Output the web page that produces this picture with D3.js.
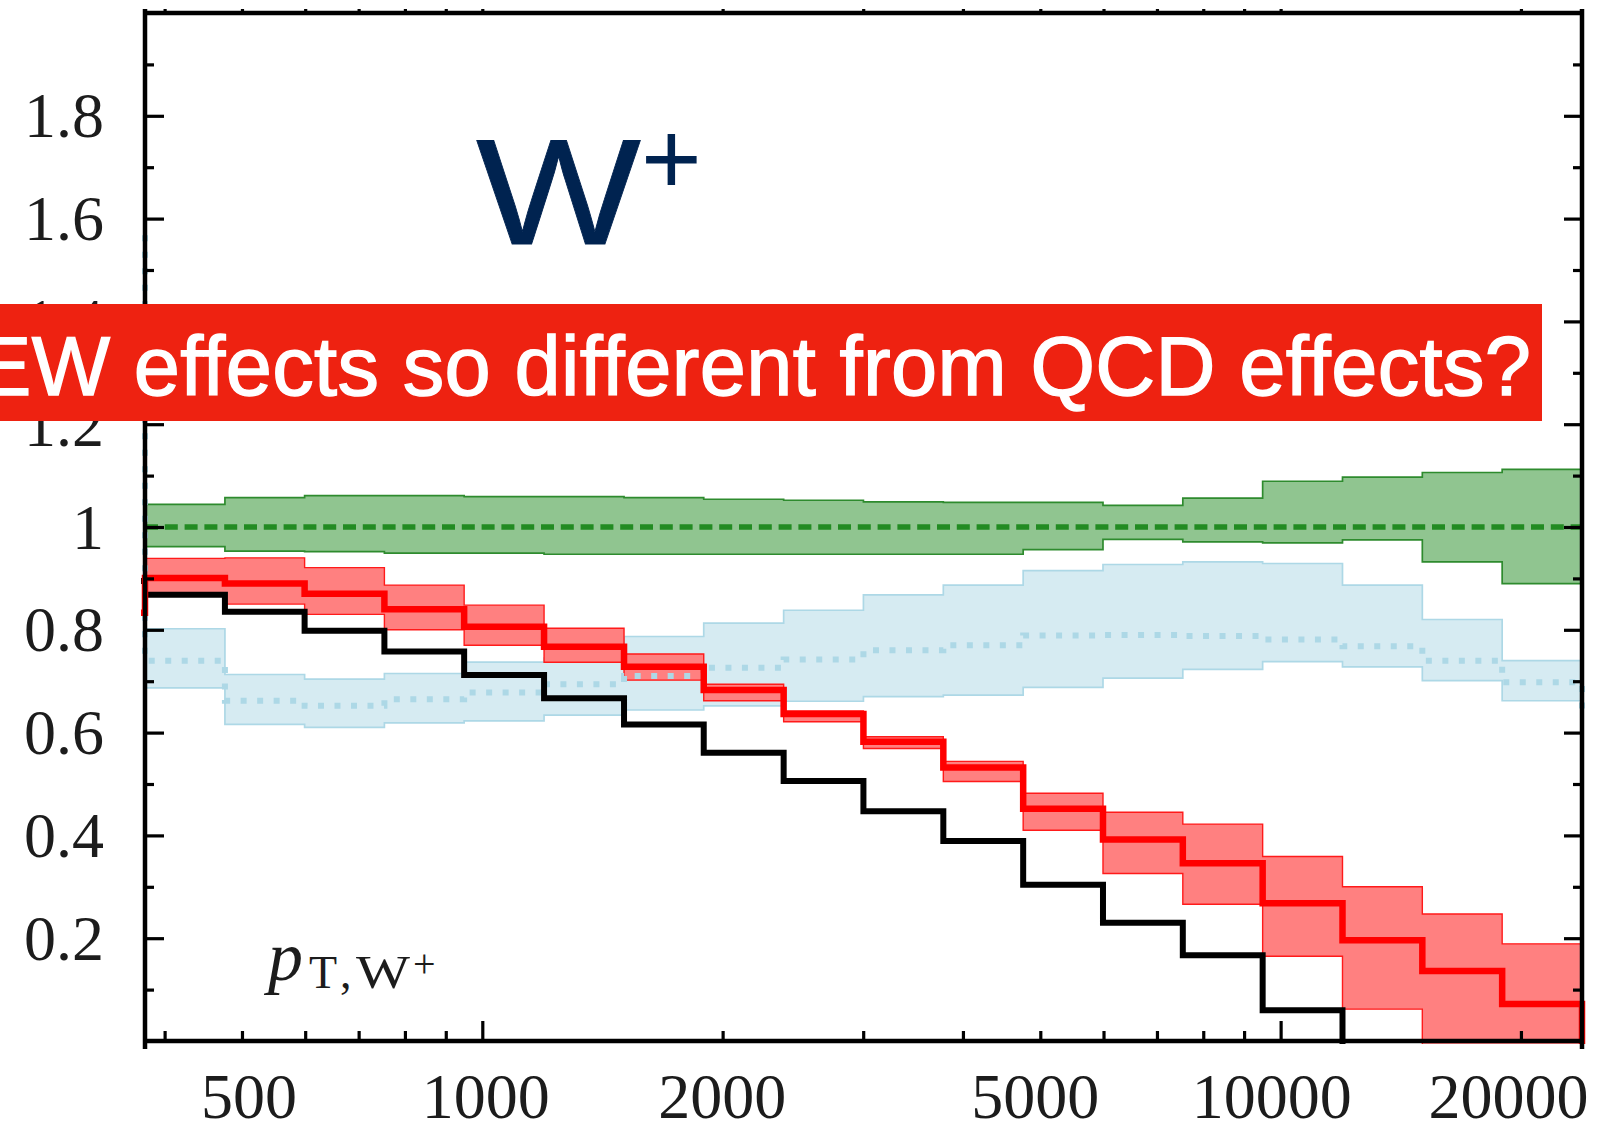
<!DOCTYPE html>
<html>
<head>
<meta charset="utf-8">
<script src="https://cdnjs.cloudflare.com/ajax/libs/d3/7.8.5/d3.min.js"></script>
<style>
  html, body { margin: 0; padding: 0; background: #fff; overflow: hidden; }
  svg { display: block; }
  .lbl { font-family: "Liberation Serif", "Times New Roman", serif; font-size: 64px; fill: #1c1c1c; }
</style>
</head>
<body>
<div id="chart"></div>
<script>
// pT bin edges (10 bins per decade), first/last entries are the bins just outside the frame
var binEdges = [300, 378, 476, 599, 754, 949, 1195, 1505, 1894, 2385, 3002, 3780, 4759, 5991, 7542, 9495, 11954, 15049, 18946, 23852, 30000];

// step lines: index 0 and 19 are the neighbour bins outside the frame
var blackLine = [0.895, 0.868, 0.835, 0.798, 0.758, 0.712, 0.667, 0.616, 0.561, 0.506, 0.447, 0.389, 0.304, 0.230, 0.167, 0.060, -0.05, -0.05, -0.05, -0.05];
var redLine   = [0.833, 0.901, 0.890, 0.870, 0.840, 0.806, 0.767, 0.728, 0.683, 0.636, 0.582, 0.532, 0.452, 0.392, 0.346, 0.268, 0.196, 0.136, 0.072, -0.05];
var blueLine  = [1.572, 0.740, 0.662, 0.652, 0.665, 0.678, 0.694, 0.710, 0.726, 0.742, 0.760, 0.770, 0.789, 0.790, 0.788, 0.781, 0.768, 0.740, 0.698, 0.640];
var greenLine = [1, 1, 1, 1, 1, 1, 1, 1, 1, 1, 1, 1, 1, 1, 1, 1, 1, 1, 1, 1];

// uncertainty bands, the 18 bins inside the frame
var redHi   = [0.939, 0.940, 0.921, 0.887, 0.848, 0.803, 0.753, 0.694, 0.642, 0.592, 0.544, 0.482, 0.445, 0.422, 0.359, 0.300, 0.247, 0.189];
var redLo   = [0.865, 0.850, 0.830, 0.800, 0.770, 0.737, 0.702, 0.662, 0.621, 0.569, 0.505, 0.410, 0.326, 0.266, 0.165, 0.062, -0.05, -0.05];
var greenHi = [1.044, 1.057, 1.061, 1.061, 1.059, 1.059, 1.057, 1.054, 1.052, 1.049, 1.048, 1.048, 1.042, 1.056, 1.089, 1.097, 1.106, 1.112];
var greenLo = [0.962, 0.953, 0.952, 0.949, 0.949, 0.947, 0.947, 0.947, 0.947, 0.947, 0.947, 0.956, 0.976, 0.971, 0.969, 0.975, 0.932, 0.890];
var blueHi  = [0.802, 0.713, 0.704, 0.715, 0.737, 0.745, 0.787, 0.813, 0.838, 0.868, 0.887, 0.915, 0.927, 0.932, 0.929, 0.887, 0.820, 0.740];
var blueLo  = [0.687, 0.616, 0.610, 0.619, 0.623, 0.634, 0.644, 0.652, 0.661, 0.670, 0.673, 0.688, 0.706, 0.723, 0.738, 0.728, 0.701, 0.662];

var xLabelTicks = [500, 1000, 2000, 5000, 10000, 20000];
var xMajorTicks = [1000, 10000];
var xMinorTicks = [400, 500, 600, 700, 800, 900, 2000, 3000, 4000, 5000, 6000, 7000, 8000, 9000, 20000];
var yMajorTicks = [0.2, 0.4, 0.6, 0.8, 1.0, 1.2, 1.4, 1.6, 1.8];
var yMinorTicks = [0.1, 0.3, 0.5, 0.7, 0.9, 1.1, 1.3, 1.5, 1.7, 1.9];

var W = 1602, H = 1131;
var margin = { top: 13, right: 20, bottom: 90, left: 145 };
var width = W - margin.left - margin.right,
    height = H - margin.top - margin.bottom;

var svg = d3.select("#chart").append("svg")
  .attr("width", W)
  .attr("height", H);

var g = svg.append("g")
  .attr("transform", "translate(" + margin.left + "," + margin.top + ")");

var x = d3.scaleLog().domain([binEdges[1], binEdges[binEdges.length - 2]]).range([0, width]);
var y = d3.scaleLinear().domain([0, 2]).range([height, 0]);
// the tick labels in the original sit on a slightly compressed log scale
var xLab = d3.scaleLog().domain([500, 20000]).range([103.5, 1363]);

g.append("clipPath").attr("id", "plotClip")
  .append("rect")
  .attr("x", -4).attr("y", -4)
  .attr("width", width + 8).attr("height", height + 7);

var plot = g.append("g").attr("clip-path", "url(#plotClip)");

// step points for a band/line living on the given edges
function stepPoints(edges, vals) {
  var pts = vals.map(function (v, i) { return [edges[i], v]; });
  pts.push([edges[vals.length], vals[vals.length - 1]]);
  return pts;
}

var inner = binEdges.slice(1, binEdges.length - 1);

var stepLine = d3.line()
  .x(function (d) { return x(d[0]); })
  .y(function (d) { return y(d[1]); })
  .curve(d3.curveStepAfter);

var stepArea = d3.area()
  .x(function (d) { return x(d[0]); })
  .y0(function (d) { return y(d[2]); })
  .y1(function (d) { return y(d[1]); })
  .curve(d3.curveStepAfter);

function drawBand(hi, lo, fill, edge, edgeWidth) {
  var pts = hi.map(function (v, i) { return [inner[i], v, lo[i]]; });
  pts.push([inner[hi.length], hi[hi.length - 1], lo[lo.length - 1]]);
  plot.append("path")
    .attr("d", stepArea(pts))
    .attr("fill", fill);
  [hi, lo].forEach(function (arr) {
    plot.append("path")
      .attr("d", stepLine(stepPoints(inner, arr)))
      .attr("fill", "none")
      .attr("stroke", edge)
      .attr("stroke-width", edgeWidth);
  });
}

drawBand(blueHi, blueLo, "#d6ebf2", "#add8e6", 1.7);
drawBand(greenHi, greenLo, "#90c590", "#2e8b2e", 1.7);
drawBand(redHi, redLo, "#ff8080", "#ff1a1a", 1.4);

// central lines
plot.append("path")
  .attr("d", stepLine(stepPoints(inner, greenLine.slice(1, 19))))
  .attr("fill", "none")
  .attr("stroke", "#228b22")
  .attr("stroke-width", 5.5)
  .attr("stroke-dasharray", "13,6.8");

plot.append("path")
  .attr("d", stepLine(stepPoints(binEdges, blueLine)))
  .attr("fill", "none")
  .attr("stroke", "#add8e6")
  .attr("stroke-width", 6)
  .attr("stroke-dasharray", "6,10.5");

plot.append("path")
  .attr("d", stepLine(stepPoints(binEdges, blackLine)))
  .attr("fill", "none")
  .attr("stroke", "#000")
  .attr("stroke-width", 6);

plot.append("path")
  .attr("d", stepLine(stepPoints(binEdges, redLine)))
  .attr("fill", "none")
  .attr("stroke", "#ff0000")
  .attr("stroke-width", 6.5);

// axes with inward ticks
function styleAxis(sel) {
  sel.select(".domain").remove();
  sel.selectAll(".tick line").attr("stroke", "#000").attr("stroke-width", 3.2);
}

g.append("g").call(d3.axisLeft(y).tickValues(yMajorTicks).tickSize(-19).tickPadding(41)
    .tickFormat(function (d) { return d === 1 ? "1" : d3.format(".1f")(d); }))
  .call(styleAxis)
  .selectAll("text").attr("class", "lbl").attr("dy", "0.33em");
g.append("g").call(d3.axisLeft(y).tickValues(yMinorTicks).tickSize(-9).tickFormat(""))
  .call(styleAxis);

g.append("g").attr("transform", "translate(" + width + ",0)")
  .call(d3.axisRight(y).tickValues(yMajorTicks).tickSize(-18).tickFormat(""))
  .call(styleAxis);
g.append("g").attr("transform", "translate(" + width + ",0)")
  .call(d3.axisRight(y).tickValues(yMinorTicks).tickSize(-9).tickFormat(""))
  .call(styleAxis);

g.append("g").attr("transform", "translate(0," + height + ")")
  .call(d3.axisBottom(x).tickValues(xMajorTicks).tickSize(-20).tickFormat(""))
  .call(styleAxis);
g.append("g").attr("transform", "translate(0," + height + ")")
  .call(d3.axisBottom(x).tickValues(xMinorTicks).tickSize(-10).tickFormat(""))
  .call(styleAxis);
g.append("g").attr("transform", "translate(0," + height + ")")
  .call(d3.axisBottom(xLab).tickValues(xLabelTicks).tickSize(0).tickFormat(d3.format("d")))
  .call(function (sel) { sel.select(".domain").remove(); sel.selectAll(".tick line").remove(); })
  .selectAll("text").attr("class", "lbl").attr("y", 77).attr("dy", 0);

g.append("g")
  .call(d3.axisTop(x).tickValues(xMajorTicks.concat(xMinorTicks)).tickSize(4).tickFormat(""))
  .call(styleAxis);

// frame
var frame = g.append("g").attr("stroke", "#000").attr("stroke-width", 4.5).attr("fill", "none");
frame.append("line").attr("x1", 0).attr("x2", 0).attr("y1", -4).attr("y2", height + 8);
frame.append("line").attr("x1", width).attr("x2", width).attr("y1", -4).attr("y2", height + 8);
frame.append("line").attr("x1", -2).attr("x2", width + 2).attr("y1", 0).attr("y2", 0);
frame.append("line").attr("x1", -2).attr("x2", width + 2).attr("y1", height).attr("y2", height);

// W+ label
svg.append("text")
  .attr("x", 476).attr("y", 244)
  .attr("textLength", 165).attr("lengthAdjust", "spacingAndGlyphs")
  .style("font-family", "'Liberation Sans', Arial, sans-serif")
  .style("font-size", "151px")
  .style("fill", "#002350")
  .style("stroke", "#002350")
  .style("stroke-width", 0.8)
  .text("W");
svg.append("text")
  .attr("x", 641).attr("y", 194)
  .style("font-family", "'Liberation Sans', Arial, sans-serif")
  .style("font-size", "104px")
  .style("fill", "#002350")
  .text("+");

// observable label p_T,W+
var pl = svg.append("text")
  .style("font-family", "'Liberation Serif', 'Times New Roman', serif")
  .style("fill", "#1c1c1c");
pl.append("tspan").attr("x", 268).attr("y", 980).style("font-style", "italic").style("font-size", "70px").text("p");
pl.append("tspan").attr("x", 309).attr("y", 988).style("font-size", "46px").text("T");
pl.append("tspan").attr("x", 340).attr("y", 988).style("font-size", "46px").text(",");
pl.append("tspan").attr("x", 356).attr("y", 988).attr("textLength", 54).attr("lengthAdjust", "spacingAndGlyphs")
  .style("font-size", "46px").text("W");
pl.append("tspan").attr("x", 413).attr("y", 977).style("font-size", "40px").text("+");

// banner
svg.append("rect")
  .attr("x", 0).attr("y", 304)
  .attr("width", 1542).attr("height", 117)
  .attr("fill", "#ee2211");
svg.append("text")
  .attr("x", -24).attr("y", 395)
  .attr("textLength", 1555).attr("lengthAdjust", "spacing")
  .style("font-family", "'Liberation Sans', Arial, Helvetica, sans-serif")
  .style("font-size", "83px")
  .style("fill", "#fff")
  .style("stroke", "#fff")
  .style("stroke-width", 1.4)
  .text("EW effects so different from QCD effects?");
</script>
</body>
</html>
